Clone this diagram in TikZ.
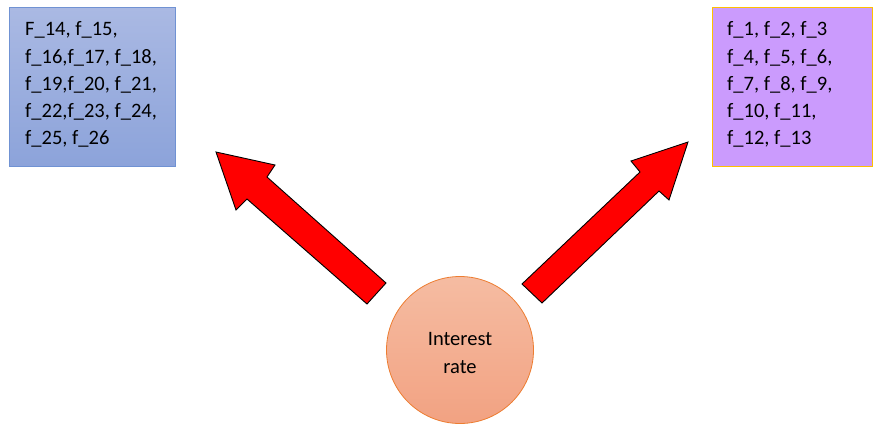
\documentclass[tikz,border=0pt]{standalone}
\usepackage{fontspec}
\setmainfont{Carlito}
\begin{document}
\begin{tikzpicture}[x=1pt,y=-1pt,
  listbox/.style={rectangle,minimum width=#1,line width=0.8pt,anchor=north west,inner sep=0pt},
  listtext/.style={anchor=north west,align=left,inner sep=0pt,font=\fontsize{20.5}{27.3}\selectfont},
  blockarrow/.style={fill=red,draw=black,line width=0.9pt,line join=miter}]
\useasboundingbox[fill=white] (0,0) rectangle (874,425);
% left box
\node[listbox=166pt,minimum height=159pt,top color={rgb,255:red,170;green,185;blue,227},bottom color={rgb,255:red,140;green,163;blue,218},draw={rgb,255:red,112;green,146;blue,211}] (lb) at (9,7) {};
\node[listtext] (lt) at (25,21.5) {F\_14, f\_15,\\f\_16,f\_17, f\_18,\\f\_19,f\_20, f\_21,\\f\_22,f\_23, f\_24,\\f\_25, f\_26};
% right box
\node[listbox=160pt,minimum height=159pt,fill={rgb,255:red,203;green,155;blue,253},draw={rgb,255:red,255;green,192;blue,0}] (rb) at (712,7) {};
\node[listtext] (rt) at (727,21.5) {f\_1, f\_2, f\_3\\f\_4, f\_5, f\_6,\\f\_7, f\_8, f\_9,\\f\_10, f\_11,\\f\_12, f\_13};
% circle
\node[circle,minimum size=147pt,inner sep=0pt,line width=0.8pt,draw={rgb,255:red,237;green,125;blue,49},top color={rgb,255:red,245;green,188;blue,162},bottom color={rgb,255:red,242;green,162;blue,130}] (ir) at (460,350) {};
\node[align=center,inner sep=0pt,font=\fontsize{20.5}{28}\selectfont] (irt) at (460,353) {Interest\\rate};
% left arrow
\draw[blockarrow] (216,152) -- (275,165) -- (267,177) -- (386,283) -- (367,304) -- (247,199) -- (236,210) -- cycle;
% right arrow
\draw[blockarrow] (688,142) -- (669,200) -- (659,191) -- (542,303) -- (522,284) -- (640,172) -- (631,161) -- cycle;
\end{tikzpicture}
\end{document}
